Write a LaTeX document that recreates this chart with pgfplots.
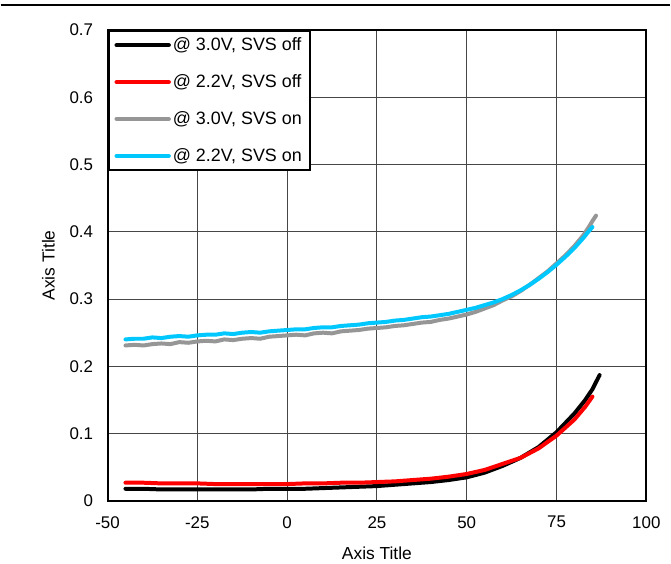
\documentclass[border=0pt]{standalone}
\usepackage{pgfplots}
\pgfplotsset{compat=1.18}
\usepackage{fontspec}
\setmainfont{Liberation Sans}
\definecolor{svsgray}{RGB}{150,150,150}
\definecolor{svscyan}{RGB}{0,200,255}
\definecolor{gridgray}{RGB}{70,70,70}

\begin{document}
\begin{tikzpicture}
\begin{axis}[
    name=ax,
    scale only axis,
    width=540bp,
    height=472bp,
    xmin=-50, xmax=100,
    ymin=0, ymax=0.7,
    xtick={-50,-25,0,25,50,75,100},
    ytick={0,0.1,0.2,0.3,0.4,0.5,0.6,0.7},
    yticklabels={0,0.1,0.2,0.3,0.4,0.5,0.6,0.7},
    major tick length=0pt,
    grid=major,
    major grid style={gridgray, line width=1bp},
    axis line style={black, line width=2bp},
    /pgf/number format/assume math mode=true,
    tick label style={font=\fontsize{17}{19}\selectfont},
    xticklabel style={yshift=-12bp},
    yticklabel style={xshift=-11bp},
    xlabel={Axis Title},
    ylabel={Axis Title},
    label style={font=\fontsize{17.5}{20}\selectfont},
    xlabel style={yshift=-12bp},
    ylabel style={yshift=8bp},
    legend style={at={(0,1)}, anchor=north west, draw=black, line width=2bp,
        font=\fontsize{18}{20}\selectfont, row sep=18.5bp,
        inner xsep=6bp, inner ysep=5bp, fill=white},
    legend cell align={left},
    legend image code/.code={\draw[#1, line width=4.5bp, line cap=round] (0bp,0bp) -- (52bp,0bp);},
]
\addplot[black, line width=4bp, line cap=round] coordinates {
(-45,0.018) (-40,0.018) (-35,0.017) (-30,0.017) (-25,0.017) (-20,0.017)
(-15,0.017) (-10,0.017) (-5,0.018) (0,0.018) (5,0.018) (10,0.019)
(15,0.020) (20,0.021) (25,0.022) (30,0.024) (35,0.026) (40,0.028)
(45,0.031) (50,0.035) (55,0.042) (60,0.052) (65,0.064) (70,0.080)
(75,0.102) (80,0.130) (83,0.150) (85,0.166) (87,0.187)
};
\addlegendentry{@ 3.0V, SVS off}
\addplot[red, line width=4bp, line cap=round] coordinates {
(-45,0.027) (-40,0.027) (-35,0.026) (-30,0.026) (-25,0.026) (-20,0.025)
(-15,0.025) (-10,0.025) (-5,0.025) (0,0.025) (5,0.026) (10,0.026)
(15,0.027) (20,0.027) (25,0.028) (30,0.029) (35,0.031) (40,0.033)
(45,0.036) (50,0.040) (55,0.046) (60,0.055) (65,0.064) (70,0.078)
(75,0.097) (80,0.121) (83,0.140) (85,0.155)
};
\addlegendentry{@ 2.2V, SVS off}
\addplot[svsgray, line width=4bp, line cap=round] coordinates {
(-45,0.231) (-42.5,0.232) (-40,0.231) (-37.5,0.233) (-35,0.234) (-32.5,0.233)
(-30,0.236) (-27.5,0.235) (-25,0.237) (-22.5,0.238) (-20,0.237) (-17.5,0.240)
(-15,0.239) (-12.5,0.241) (-10,0.242) (-7.5,0.241) (-5,0.244) (-2.5,0.245)
(0,0.246) (2.5,0.247) (5,0.246) (7.5,0.249) (10,0.250) (12.5,0.249)
(15,0.252) (17.5,0.253) (20,0.254) (22.5,0.256) (25,0.257) (27.5,0.258)
(30,0.260) (32.5,0.261) (35,0.263) (37.5,0.265) (40,0.266) (42.5,0.269)
(45,0.271) (47.5,0.274) (50,0.277) (52.5,0.281) (55,0.286) (57.5,0.291)
(60,0.298) (62.5,0.304) (65,0.312) (67.5,0.321) (70,0.331) (72.5,0.341)
(75,0.353) (77.5,0.365) (80,0.379) (82.5,0.395) (84,0.407) (85,0.416) (86,0.424)
};
\addlegendentry{@ 3.0V, SVS on}
\addplot[svscyan, line width=4bp, line cap=round] coordinates {
(-45,0.240) (-42.5,0.241) (-40,0.241) (-37.5,0.243) (-35,0.242) (-32.5,0.244)
(-30,0.245) (-27.5,0.244) (-25,0.246) (-22.5,0.247) (-20,0.247) (-17.5,0.249)
(-15,0.248) (-12.5,0.250) (-10,0.251) (-7.5,0.250) (-5,0.252) (-2.5,0.253)
(0,0.254) (2.5,0.255) (5,0.255) (7.5,0.257) (10,0.258) (12.5,0.258)
(15,0.260) (17.5,0.261) (20,0.262) (22.5,0.264) (25,0.265) (27.5,0.266)
(30,0.268) (32.5,0.269) (35,0.271) (37.5,0.273) (40,0.274) (42.5,0.276)
(45,0.278) (47.5,0.281) (50,0.284) (52.5,0.287) (55,0.291) (57.5,0.295)
(60,0.300) (62.5,0.306) (65,0.313) (67.5,0.321) (70,0.330) (72.5,0.340)
(75,0.351) (77.5,0.363) (80,0.376) (82.5,0.391) (84,0.401) (85,0.407)
};
\addlegendentry{@ 2.2V, SVS on}
\end{axis}
\draw[black, line width=1.5bp] ([shift={(-107bp,497bp)}]ax.south west) -- ([shift={(564bp,497bp)}]ax.south west);
\path[use as bounding box] ([shift={(-107bp,-60bp)}]ax.south west) rectangle ([shift={(564bp,502bp)}]ax.south west);
\end{tikzpicture}
\end{document}
